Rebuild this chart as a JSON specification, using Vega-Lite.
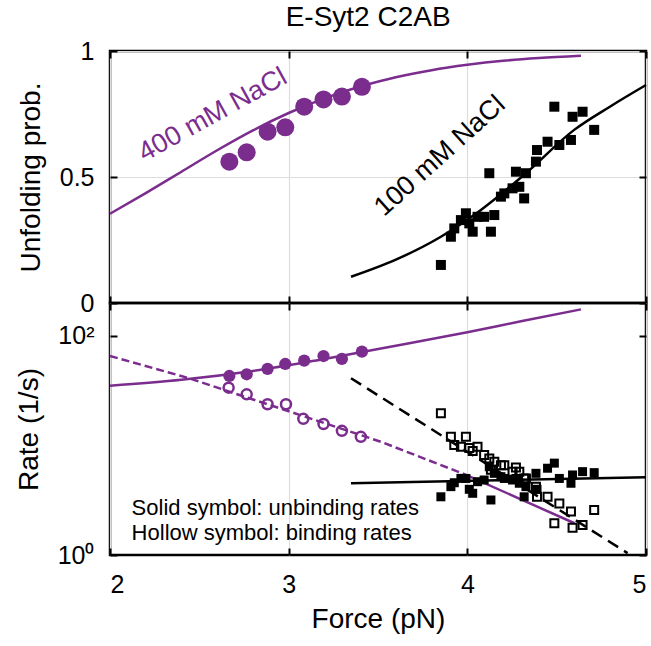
{
  "$schema": "https://vega.github.io/schema/vega-lite/v6.json",
  "padding": {"left": 13, "top": 3, "right": 0, "bottom": 0},
  "title": {"text": "E-Syt2 C2AB", "fontSize": 28, "fontWeight": "normal", "font": "Liberation Sans", "color": "black", "anchor": "middle", "dx": 35, "offset": 6},
  "datasets": {
    "p400": [
      {"force": 2.668, "prob": 0.561}, {"force": 2.765, "prob": 0.598}, {"force": 2.882, "prob": 0.680}, {"force": 2.981, "prob": 0.697},
      {"force": 3.087, "prob": 0.779}, {"force": 3.195, "prob": 0.808}, {"force": 3.298, "prob": 0.819}, {"force": 3.410, "prob": 0.858}
    ],
    "fit400p": [
      {"force": 2.0, "prob": 0.354}, {"force": 2.2, "prob": 0.436}, {"force": 2.4, "prob": 0.521}, {"force": 2.6, "prob": 0.606},
      {"force": 2.8, "prob": 0.685}, {"force": 3.0, "prob": 0.754}, {"force": 3.2, "prob": 0.812}, {"force": 3.4, "prob": 0.859},
      {"force": 3.6, "prob": 0.896}, {"force": 3.8, "prob": 0.924}, {"force": 4.0, "prob": 0.945}, {"force": 4.2, "prob": 0.961},
      {"force": 4.4, "prob": 0.972}, {"force": 4.636, "prob": 0.981}
    ],
    "p100": [
      {"force": 3.852, "prob": 0.151}, {"force": 3.908, "prob": 0.263}, {"force": 3.927, "prob": 0.296}, {"force": 3.964, "prob": 0.329},
      {"force": 3.992, "prob": 0.356}, {"force": 4.011, "prob": 0.316}, {"force": 4.030, "prob": 0.283}, {"force": 4.057, "prob": 0.342},
      {"force": 4.094, "prob": 0.342}, {"force": 4.123, "prob": 0.515}, {"force": 4.132, "prob": 0.283}, {"force": 4.151, "prob": 0.349},
      {"force": 4.188, "prob": 0.422}, {"force": 4.207, "prob": 0.435}, {"force": 4.253, "prob": 0.455}, {"force": 4.272, "prob": 0.521},
      {"force": 4.291, "prob": 0.461}, {"force": 4.318, "prob": 0.415}, {"force": 4.328, "prob": 0.515}, {"force": 4.384, "prob": 0.561},
      {"force": 4.390, "prob": 0.607}, {"force": 4.449, "prob": 0.640}, {"force": 4.487, "prob": 0.779}, {"force": 4.515, "prob": 0.627},
      {"force": 4.580, "prob": 0.647}, {"force": 4.589, "prob": 0.739}, {"force": 4.645, "prob": 0.759}, {"force": 4.710, "prob": 0.687}
    ],
    "fit100p": [
      {"force": 3.349, "prob": 0.104}, {"force": 3.6, "prob": 0.172}, {"force": 3.852, "prob": 0.263}, {"force": 4.076, "prob": 0.369},
      {"force": 4.328, "prob": 0.515}, {"force": 4.598, "prob": 0.687}, {"force": 4.8, "prob": 0.78}, {"force": 5.0, "prob": 0.865}
    ],
    "lab400": [{"force": 2.575, "prob": 0.746, "label": "400 mM NaCl"}],
    "lab100": [{"force": 3.847, "prob": 0.583, "label": "100 mM NaCl"}],
    "u400": [
      {"force": 2.668, "rate": 43.1}, {"force": 2.765, "rate": 44.7}, {"force": 2.882, "rate": 50.0}, {"force": 2.981, "rate": 55.5},
      {"force": 3.087, "rate": 59.5}, {"force": 3.195, "rate": 65.6}, {"force": 3.298, "rate": 61.7}, {"force": 3.410, "rate": 71.9}
    ],
    "b400": [
      {"force": 2.664, "rate": 33.7}, {"force": 2.765, "rate": 29.3}, {"force": 2.882, "rate": 23.8}, {"force": 2.985, "rate": 23.8},
      {"force": 3.082, "rate": 17.5}, {"force": 3.195, "rate": 15.7}, {"force": 3.298, "rate": 13.6}, {"force": 3.404, "rate": 12.0}
    ],
    "fit400u": [
      {"force": 2.0, "rate": 35.2}, {"force": 2.4, "rate": 39.8}, {"force": 2.8, "rate": 47.9}, {"force": 3.2, "rate": 61.7},
      {"force": 3.6, "rate": 81.3}, {"force": 4.0, "rate": 108}, {"force": 4.3, "rate": 136}, {"force": 4.636, "rate": 175}
    ],
    "fit400bdash": [
      {"force": 2.0, "rate": 65.7}, {"force": 2.434, "rate": 41.5}, {"force": 3.517, "rate": 10.8}, {"force": 3.98, "rate": 5.5}
    ],
    "fit400bsolid": [
      {"force": 3.98, "rate": 5.5}, {"force": 4.6, "rate": 1.95}
    ],
    "u100": [
      {"force": 3.852, "rate": 3.40}, {"force": 3.908, "rate": 4.21}, {"force": 3.927, "rate": 4.57}, {"force": 3.964, "rate": 5.01},
      {"force": 3.992, "rate": 5.0}, {"force": 4.011, "rate": 3.98}, {"force": 4.030, "rate": 3.66}, {"force": 4.057, "rate": 4.67},
      {"force": 4.094, "rate": 4.84}, {"force": 4.123, "rate": 6.4}, {"force": 4.132, "rate": 3.18}, {"force": 4.151, "rate": 5.57},
      {"force": 4.188, "rate": 5.19}, {"force": 4.207, "rate": 5.0}, {"force": 4.253, "rate": 4.84}, {"force": 4.272, "rate": 5.0},
      {"force": 4.291, "rate": 4.52}, {"force": 4.318, "rate": 3.40}, {"force": 4.328, "rate": 4.21}, {"force": 4.384, "rate": 5.57},
      {"force": 4.390, "rate": 3.98}, {"force": 4.449, "rate": 6.2}, {"force": 4.487, "rate": 6.9}, {"force": 4.515, "rate": 5.0},
      {"force": 4.580, "rate": 4.52}, {"force": 4.589, "rate": 5.38}, {"force": 4.645, "rate": 5.77}, {"force": 4.710, "rate": 5.65}
    ],
    "b100": [
      {"force": 3.852, "rate": 19.7}, {"force": 3.908, "rate": 12.0}, {"force": 3.927, "rate": 10.1}, {"force": 3.964, "rate": 9.75},
      {"force": 3.992, "rate": 12.0}, {"force": 4.011, "rate": 9.5}, {"force": 4.030, "rate": 8.9}, {"force": 4.057, "rate": 9.75},
      {"force": 4.094, "rate": 8.2}, {"force": 4.123, "rate": 7.6}, {"force": 4.132, "rate": 6.0}, {"force": 4.151, "rate": 7.1},
      {"force": 4.188, "rate": 6.6}, {"force": 4.207, "rate": 6.6}, {"force": 4.253, "rate": 5.75}, {"force": 4.272, "rate": 6.3},
      {"force": 4.291, "rate": 5.75}, {"force": 4.318, "rate": 5.0}, {"force": 4.328, "rate": 5.0}, {"force": 4.384, "rate": 4.2},
      {"force": 4.390, "rate": 3.4}, {"force": 4.449, "rate": 3.4}, {"force": 4.487, "rate": 1.95}, {"force": 4.515, "rate": 2.96},
      {"force": 4.580, "rate": 2.49}, {"force": 4.589, "rate": 1.77}, {"force": 4.645, "rate": 1.88}, {"force": 4.710, "rate": 2.58}
    ],
    "fit100u": [{"force": 3.349, "rate": 4.52}, {"force": 5.0, "rate": 5.13}],
    "fit100b": [{"force": 3.349, "rate": 41.1}, {"force": 4.897, "rate": 1.04}],
    "notes1": [{"force": 2.121, "rate": 2.69, "label": "Solid symbol: unbinding rates"}],
    "notes2": [{"force": 2.121, "rate": 1.59, "label": "Hollow symbol: binding rates"}]
  },
  "vconcat": [
    {
      "width": 536,
      "height": 252,
      "layer": [
        {
          "encoding": {
            "x": {"field": "force", "type": "quantitative", "scale": {"domain": [2, 5], "nice": false},
                  "axis": {"orient": "bottom", "values": [2, 3, 4, 5], "labels": false, "title": null, "grid": true, "minExtent": 0, "maxExtent": 0}},
            "y": {"field": "prob", "type": "quantitative", "scale": {"domain": [0, 1], "nice": false},
                  "axis": {"orient": "left", "values": [0, 0.5, 1], "format": "~g", "title": "Unfolding prob.", "grid": true, "labelPadding": 23, "titlePadding": 14}}
          },
          "layer": [
            {"data": {"name": "fit400p"}, "mark": {"type": "line", "color": "#7b2d8e", "strokeWidth": 2.5, "interpolate": "monotone"}},
            {"data": {"name": "p400"}, "mark": {"type": "point", "shape": "circle", "filled": true, "color": "#7b2d8e", "size": 324, "opacity": 1}},
            {"data": {"name": "fit100p"}, "mark": {"type": "line", "color": "black", "strokeWidth": 2.5, "interpolate": "monotone"}},
            {"data": {"name": "p100"}, "mark": {"type": "point", "shape": "square", "filled": true, "color": "black", "size": 100, "opacity": 1}},
            {"data": {"name": "lab400"}, "mark": {"type": "text", "color": "#7b2d8e", "fontSize": 27, "angle": 331, "align": "center", "baseline": "middle"}, "encoding": {"text": {"field": "label"}}},
            {"data": {"name": "lab100"}, "mark": {"type": "text", "color": "black", "fontSize": 27, "angle": 318, "align": "center", "baseline": "middle"}, "encoding": {"text": {"field": "label"}}}
          ]
        },
        {
          "data": {"name": "fit400p"},
          "mark": {"type": "point", "opacity": 0},
          "encoding": {
            "x": {"field": "force", "type": "quantitative", "axis": {"orient": "top", "values": [2, 3, 4, 5], "labels": false, "title": null, "grid": false, "minExtent": 0, "maxExtent": 0}},
            "y": {"field": "prob", "type": "quantitative", "axis": {"orient": "right", "values": [0, 0.5, 1], "labels": false, "title": null, "grid": false, "minExtent": 0, "maxExtent": 0}}
          }
        }
      ],
      "resolve": {"axis": {"x": "independent", "y": "independent"}}
    },
    {
      "width": 536,
      "height": 252,
      "layer": [
        {
          "encoding": {
            "x": {"field": "force", "type": "quantitative", "scale": {"domain": [2, 5], "nice": false},
                  "axis": {"orient": "bottom", "values": [2, 3, 4, 5], "title": "Force (pN)", "grid": true, "labelPadding": 24, "titlePadding": 8}},
            "y": {"field": "rate", "type": "quantitative", "scale": {"type": "log", "domain": [1, 200], "nice": false},
                  "axis": {"orient": "left", "values": [1, 100], "labelExpr": "datum.value >= 100 ? '10²' : '10⁰'", "title": "Rate (1/s)", "grid": false, "labelPadding": 23, "titlePadding": 14}}
          },
          "layer": [
            {"data": {"name": "fit400u"}, "mark": {"type": "line", "color": "#7b2d8e", "strokeWidth": 2.5, "interpolate": "monotone"}},
            {"data": {"name": "fit400bdash"}, "mark": {"type": "line", "color": "#7b2d8e", "strokeWidth": 2.5, "strokeDash": [8, 4]}},
            {"data": {"name": "fit400bsolid"}, "mark": {"type": "line", "color": "#7b2d8e", "strokeWidth": 2.5}},
            {"data": {"name": "fit100b"}, "mark": {"type": "line", "color": "black", "strokeWidth": 2.5, "strokeDash": [12, 7]}},
            {"data": {"name": "fit100u"}, "mark": {"type": "line", "color": "black", "strokeWidth": 2.5}},
            {"data": {"name": "u400"}, "mark": {"type": "point", "shape": "circle", "filled": true, "color": "#7b2d8e", "size": 150, "opacity": 1}},
            {"data": {"name": "b400"}, "mark": {"type": "point", "shape": "circle", "filled": false, "color": "#7b2d8e", "size": 100, "strokeWidth": 2.5, "opacity": 1}},
            {"data": {"name": "u100"}, "mark": {"type": "point", "shape": "square", "filled": true, "color": "black", "size": 81, "opacity": 1}},
            {"data": {"name": "b100"}, "mark": {"type": "point", "shape": "square", "filled": false, "color": "black", "size": 64, "strokeWidth": 2, "opacity": 1}},
            {"data": {"name": "notes1"}, "mark": {"type": "text", "color": "black", "fontSize": 22, "align": "left", "baseline": "middle"}, "encoding": {"text": {"field": "label"}}},
            {"data": {"name": "notes2"}, "mark": {"type": "text", "color": "black", "fontSize": 22, "align": "left", "baseline": "middle"}, "encoding": {"text": {"field": "label"}}}
          ]
        },
        {
          "data": {"name": "fit100u"},
          "mark": {"type": "point", "opacity": 0},
          "encoding": {
            "x": {"field": "force", "type": "quantitative", "axis": {"orient": "top", "values": [2, 3, 4, 5], "labels": false, "title": null, "grid": false, "minExtent": 0, "maxExtent": 0}},
            "y": {"field": "rate", "type": "quantitative", "axis": {"orient": "right", "values": [1, 100], "labels": false, "title": null, "grid": false, "minExtent": 0, "maxExtent": 0}}
          }
        }
      ],
      "resolve": {"axis": {"x": "independent", "y": "independent"}}
    }
  ],
  "spacing": 0,
  "bounds": "flush",
  "config": {
    "font": "Liberation Sans",
    "view": {"stroke": "black", "strokeWidth": 2.5},
    "axis": {
      "domain": false,
      "tickColor": "black",
      "tickWidth": 2,
      "tickSize": -7,
      "labelFontSize": 25,
      "labelColor": "black",
      "labelFont": "Liberation Sans",
      "titleFont": "Liberation Sans",
      "titleFontSize": 28,
      "titleFontWeight": "normal",
      "titleColor": "black",
      "gridColor": "#dddddd",
      "gridWidth": 1.2
    }
  }
}
